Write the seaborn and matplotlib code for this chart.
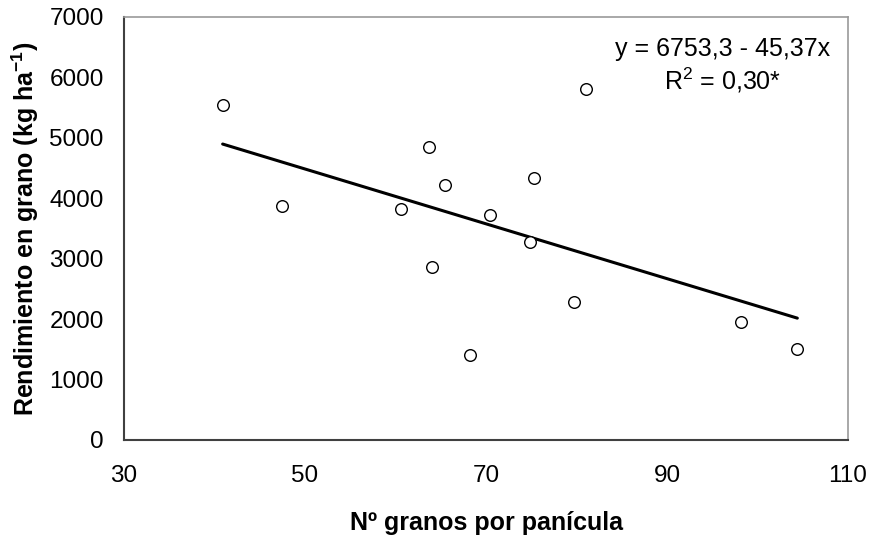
import matplotlib
matplotlib.use("Agg")
import matplotlib.pyplot as plt
import seaborn as sns
import numpy as np
import pandas as pd

# datos
granos = [40.9, 47.5, 60.6, 63.7, 65.5, 70.4, 81.0, 75.3, 74.9, 64.0, 68.2, 79.7, 98.2, 104.4]
rendimiento = [5545, 3877, 3823, 4849, 4220, 3723, 5803, 4330, 3282, 2858, 1401, 2289, 1958, 1500]

# ecuación de regresión publicada
intercepto = 6753.3
pendiente = -45.37
r2_texto = "0,30*"

x_ticks = [30, 50, 70, 90, 110]
y_ticks = [0, 1000, 2000, 3000, 4000, 5000, 6000, 7000]

sns.set_style("white")
plt.rcParams['font.family'] = ['Liberation Sans', 'DejaVu Sans']
plt.rcParams['mathtext.default'] = 'regular'
plt.rcParams['text.color'] = 'black'
plt.rcParams['axes.labelcolor'] = 'black'

df = pd.DataFrame({'granos': granos, 'rend': rendimiento})
x_lin = np.array([min(granos), max(granos)])
df_lin = pd.DataFrame({'granos': x_lin, 'rend': intercepto + pendiente * x_lin})

fig = plt.figure(figsize=(8.75, 5.41), dpi=100)
ax = fig.add_axes([124 / 875, 1 - 440 / 541, 724 / 875, 423 / 541])

sns.lineplot(x='granos', y='rend', data=df_lin, ax=ax, color='black', linewidth=2.2, zorder=2)
sns.scatterplot(x='granos', y='rend', data=df, ax=ax, s=70, facecolor='white',
                edgecolor='black', linewidth=1.0, zorder=3)

ax.set_xlim(30, 110)
ax.set_ylim(0, 7000)
ax.set_xticks(x_ticks)
ax.set_yticks(y_ticks)
ax.tick_params(axis='both', labelsize=17.5, direction='out', width=1,
               color='#404040', labelcolor='black')
ax.tick_params(axis='x', length=5, pad=13)
ax.tick_params(axis='y', length=6.5, pad=8)

for s in ['left', 'bottom']:
    ax.spines[s].set_color('#404040')
    ax.spines[s].set_linewidth(1.5)
for s in ['top', 'right']:
    ax.spines[s].set_color('#999999')
    ax.spines[s].set_linewidth(1.2)

ax.set_xlabel('Nº granos por panícula', fontsize=18, fontweight='bold')
ax.set_ylabel('Rendimiento en grano (kg ha$^{-1}$)', fontsize=18, fontweight='bold')
ax.xaxis.set_label_coords(0.5, -0.168)
ax.yaxis.set_label_coords(-0.115, 0.5)

ax.text(0.827, 0.884, f'y = 6753,3 - 45,37x\n$R^2$ = {r2_texto}', transform=ax.transAxes,
        ha='center', va='center', fontsize=18, linespacing=1.2)

fig.savefig('out.png', dpi=100)
